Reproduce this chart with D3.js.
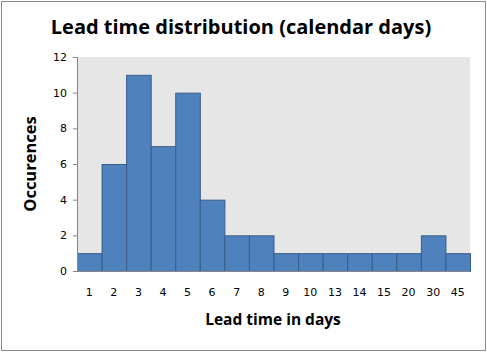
<!DOCTYPE html>
<html><head><meta charset="utf-8">
<script src="https://cdn.jsdelivr.net/npm/d3@7"></script>
<style>body{margin:0;background:#fff}svg{display:block}</style>
</head><body>
<script>
const categories = ["1","2","3","4","5","6","7","8","9","10","13","14","15","20","30","45"];
const occurrences = [1,6,11,7,10,4,2,2,1,1,1,1,1,1,2,1];
const yTicks = [0,2,4,6,8,10,12];

const W = 487, H = 352;
const m = {left:77, right:17, top:57, bottom:81};
const svg = d3.select("body").append("svg").attr("width",W).attr("height",H);
svg.append("rect").attr("x",1.5).attr("y",1.5).attr("width",W-3).attr("height",H-3)
  .attr("fill","#fff").attr("stroke","#8c8c8c");

const x = d3.scaleBand().domain(categories).range([m.left, W-m.right]).padding(0);
const y = d3.scaleLinear().domain([0,12]).range([H-m.bottom, m.top]);

svg.append("rect").attr("x",m.left).attr("y",m.top).attr("width",W-m.right-m.left)
  .attr("height",H-m.bottom-m.top).attr("fill","#e6e6e6");

svg.append("g").selectAll("rect").data(occurrences).join("rect")
  .attr("x",(d,i)=>x(categories[i])+0.5).attr("y",d=>y(d)+0.5)
  .attr("width",x.bandwidth()).attr("height",d=>y(0)-y(d))
  .attr("fill","#4f81bd").attr("stroke","#385d8a").attr("stroke-width",1);

const yAxis = svg.append("g").attr("transform",`translate(${m.left},0)`)
  .call(d3.axisLeft(y).tickValues(yTicks).tickSize(4).tickPadding(6));
const xAxis = svg.append("g").attr("transform",`translate(0,${H-m.bottom})`)
  .call(d3.axisBottom(x).tickSize(0).tickPadding(17));
[yAxis,xAxis].forEach(g=>{
  g.selectAll("path").attr("stroke","#868686");
  g.selectAll("line").attr("stroke","#868686");
  g.selectAll("text").attr("font-family","'DejaVu Sans', Verdana, sans-serif")
    .attr("font-size",11).attr("fill","#000");
});
xAxis.select(".domain").attr("d",`M${m.left},0.5H${W-m.right}`);

svg.append("text").attr("x",241).attr("y",34).attr("text-anchor","middle")
  .attr("font-family","'Open Sans', sans-serif").attr("font-weight","bold")
  .attr("font-size",20).text("Lead time distribution (calendar days)");
svg.append("text").attr("x",273).attr("y",325).attr("text-anchor","middle")
  .attr("font-family","'Open Sans', sans-serif").attr("font-weight","bold")
  .attr("font-size",15.5).text("Lead time in days");
svg.append("text").attr("transform","translate(36,164) rotate(-90)").attr("text-anchor","middle")
  .attr("font-family","'Open Sans', sans-serif").attr("font-weight","bold")
  .attr("font-size",16.5).text("Occurences");
</script>
</body></html>
